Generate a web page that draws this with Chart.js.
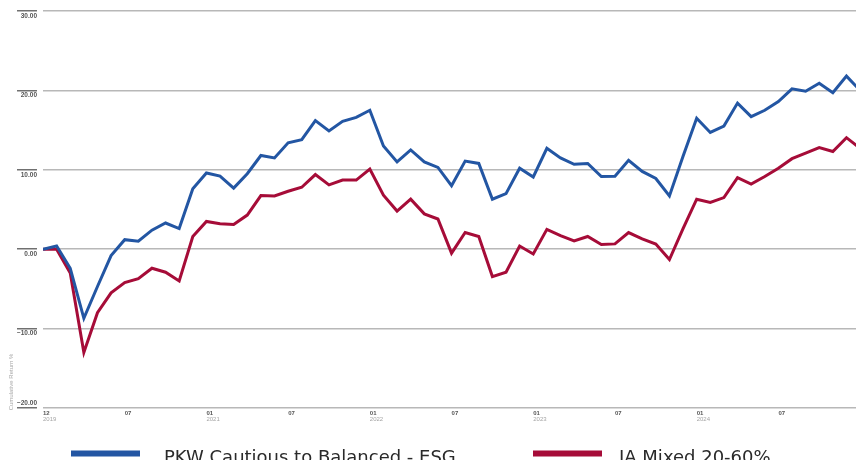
<!DOCTYPE html>
<html>
<head>
<meta charset="utf-8">
<script src="https://cdn.jsdelivr.net/npm/chart.js@4"></script>
<style>
  html, body { margin: 0; padding: 0; background: #fff; overflow: hidden; }
  #wrap { width: 856px; height: 460px; position: relative; }
</style>
</head>
<body>
<div id="wrap"><canvas id="returnsChart"></canvas></div>
<script>
// monthly cumulative return %, index 0 = 12/2019
const fundName = "PKW Cautious to Balanced - ESG";
const sectorName = "IA Mixed 20-60%";
const fundReturns = [
  0, 0.4, -2.4, -8.7, -4.7, -0.8, 1.2, 1.0, 2.4, 3.3, 2.6, 7.6,
  9.6, 9.2, 7.7, 9.5, 11.8, 11.5, 13.4, 13.8, 16.2, 14.9, 16.1, 16.6,
  17.5, 13.0, 11.0, 12.5, 11.0, 10.3, 8.0, 11.1, 10.8, 6.3, 7.0, 10.2,
  9.1, 12.7, 11.5, 10.7, 10.8, 9.15, 9.2, 11.2, 9.8, 8.9, 6.7, 11.7,
  16.5, 14.7, 15.5, 18.4, 16.7, 17.5, 18.6, 20.2, 19.9, 20.9, 19.7, 21.8,
  20.0
];
const sectorReturns = [
  0, 0, -3.0, -13.0, -8.0, -5.5, -4.2, -3.7, -2.4, -2.9, -4.0, 1.6,
  3.5, 3.2, 3.1, 4.3, 6.75, 6.7, 7.3, 7.8, 9.4, 8.1, 8.7, 8.7,
  10.1, 6.8, 4.8, 6.3, 4.45, 3.8, -0.5, 2.1, 1.6, -3.45, -2.9, 0.4,
  -0.6, 2.5, 1.7, 1.05, 1.6, 0.6, 0.67, 2.1, 1.3, 0.65, -1.3, 2.6,
  6.3, 5.9, 6.5, 9.0, 8.2, 9.15, 10.2, 11.4, 12.1, 12.8, 12.3, 14.05,
  12.7
];
const xTickIndex = [0, 6, 12, 18, 24, 30, 36, 42, 48, 54];
const monthTicks = ["12", "07", "01", "07", "01", "07", "01", "07", "01", "07"];
const yearTicks = ["2019", "", "2021", "", "2022", "", "2023", "", "2024", ""];
const yTickValues = [-20, -10, 0, 10, 20, 30];
const yAxisTitle = "Cumulative Return %";

const BLUE = "rgb(35, 86, 163)";
const RED = "rgb(166, 12, 56)";
const X_MAX = 59.7; // chart is cut at the right edge
const Y_MIN = -20;
const smallFont = '"Liberation Sans Narrow", "Liberation Sans", sans-serif';

function toPoints(values) {
  return values.map((v, i) => ({ x: i, y: v }));
}

function setTicks(values) {
  return scale => { scale.ticks = values.map(v => ({ value: v })); };
}

function formatPct(v) {
  return v < 0 ? "\u2212" + Math.abs(v).toFixed(2) : v.toFixed(2);
}

// legend, axis title and the bottom y label (sits above its line) drawn by hand
const extrasPlugin = {
  id: "extras",
  afterDraw(chart) {
    const ctx = chart.ctx;
    const legendPos = [{ box: 71, text: 164 }, { box: 533, text: 619 }];
    ctx.save();
    chart.data.datasets.forEach((ds, i) => {
      ctx.fillStyle = ds.borderColor;
      ctx.fillRect(legendPos[i].box, 450.5, 69, 6);
      ctx.fillStyle = "#2a2a2a";
      ctx.font = '18px "DejaVu Sans", sans-serif';
      ctx.textBaseline = "alphabetic";
      ctx.textAlign = "left";
      ctx.fillText(ds.label, legendPos[i].text, 463);
    });

    const yScale = chart.scales.y;
    ctx.font = "bold 6.5px " + smallFont;
    ctx.fillStyle = "#555";
    ctx.textAlign = "right";
    ctx.textBaseline = "middle";
    ctx.fillText(formatPct(Y_MIN), yScale.right - 6, yScale.getPixelForValue(Y_MIN) - 5);

    ctx.translate(11, 382);
    ctx.rotate(-Math.PI / 2);
    ctx.font = "6px " + smallFont;
    ctx.fillStyle = "#a8a8a8";
    ctx.textAlign = "center";
    ctx.fillText(yAxisTitle, 0, 0);
    ctx.restore();
  }
};

let chart = new Chart(document.querySelector("#returnsChart"), {
  type: "line",
  data: {
    datasets: [
      {
        label: fundName,
        data: toPoints(fundReturns),
        borderColor: BLUE,
        backgroundColor: BLUE,
        borderWidth: 3,
        pointRadius: 0,
        tension: 0
      },
      {
        label: sectorName,
        data: toPoints(sectorReturns),
        borderColor: RED,
        backgroundColor: RED,
        borderWidth: 3,
        pointRadius: 0,
        tension: 0
      }
    ]
  },
  options: {
    responsive: true,
    maintainAspectRatio: false,
    animation: false,
    layout: { autoPadding: false, padding: { top: 11, right: 0, left: 0, bottom: 36 } },
    plugins: {
      legend: { display: false },
      tooltip: { enabled: false }
    },
    scales: {
      x: {
        type: "linear",
        position: "bottom",
        min: 0,
        max: X_MAX,
        afterBuildTicks: setTicks(xTickIndex),
        afterFit: s => { s.height = 8; },
        grid: { display: false, drawTicks: false },
        border: { display: false },
        ticks: {
          align: "start",
          padding: 2,
          maxRotation: 0,
          autoSkip: false,
          color: "#555",
          font: { family: smallFont, size: 6, weight: "bold" },
          callback: (v, i) => monthTicks[i]
        }
      },
      x2: {
        type: "linear",
        position: "bottom",
        min: 0,
        max: X_MAX,
        afterBuildTicks: setTicks(xTickIndex),
        afterFit: s => { s.height = 8; },
        grid: { display: false, drawTicks: false },
        border: { display: false },
        ticks: {
          align: "start",
          padding: 0,
          maxRotation: 0,
          autoSkip: false,
          color: "#a5a5a5",
          font: { family: smallFont, size: 6 },
          callback: (v, i) => yearTicks[i]
        }
      },
      y: {
        min: Y_MIN,
        max: 30,
        afterBuildTicks: setTicks(yTickValues),
        afterFit: s => { s.width = 43; },
        border: { display: false },
        grid: {
          color: "#b8b8b8",
          lineWidth: 1.5,
          drawTicks: true,
          tickLength: 26,
          tickColor: "#707070",
          tickWidth: 1.5,
          tickBorderDash: [20, 6]
        },
        ticks: {
          padding: -20,
          labelOffset: 5,
          color: "#555",
          font: { family: smallFont, size: 6.5, weight: "bold" },
          callback: v => (v === Y_MIN ? "" : formatPct(v))
        }
      }
    }
  },
  plugins: [extrasPlugin]
});
</script>
</body>
</html>
